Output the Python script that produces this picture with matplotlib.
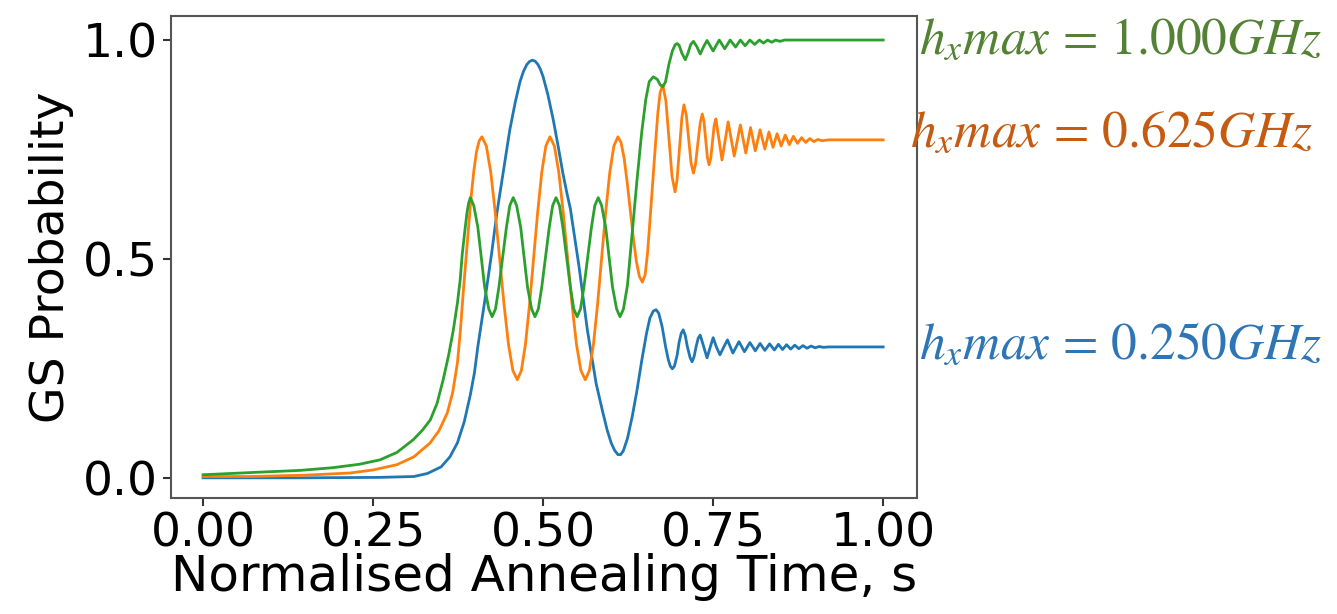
import numpy as np
import matplotlib.pyplot as plt

plt.rcParams['mathtext.fontset'] = 'stix'

# GS probability vs normalised annealing time
blue_x = [0.000, 0.150, 0.260, 0.310, 0.330, 0.350, 0.363, 0.374, 0.384, 0.393, 0.399, 0.404, 0.415, 0.424,
          0.432, 0.442, 0.451, 0.459, 0.466, 0.471, 0.476, 0.480, 0.484, 0.488, 0.492, 0.496, 0.500, 0.507,
          0.515, 0.522, 0.529, 0.535, 0.540, 0.553, 0.565, 0.578, 0.588, 0.594, 0.600, 0.605, 0.610, 0.614,
          0.618, 0.624, 0.631, 0.638, 0.645, 0.652, 0.657, 0.662, 0.666, 0.670, 0.675, 0.680, 0.684, 0.687,
          0.690, 0.693, 0.697, 0.700, 0.703, 0.706, 0.709, 0.712, 0.716, 0.719, 0.722, 0.725, 0.728, 0.731,
          0.736, 0.741, 0.746, 0.750, 0.755, 0.760, 0.766, 0.771, 0.779, 0.788, 0.796, 0.804, 0.812, 0.819,
          0.826, 0.833, 0.840, 0.846, 0.852, 0.858, 0.864, 0.870, 0.876, 0.882, 0.888, 0.894, 0.900, 0.906,
          0.912, 0.920, 1.000]
blue_y = [0.000, 0.000, 0.001, 0.003, 0.010, 0.025, 0.048, 0.080, 0.128, 0.190, 0.240, 0.300, 0.413, 0.510,
          0.605, 0.705, 0.795, 0.858, 0.905, 0.928, 0.944, 0.951, 0.954, 0.952, 0.945, 0.933, 0.916, 0.875,
          0.817, 0.758, 0.696, 0.650, 0.615, 0.480, 0.338, 0.215, 0.148, 0.110, 0.080, 0.063, 0.053, 0.053,
          0.062, 0.090, 0.140, 0.200, 0.268, 0.330, 0.365, 0.381, 0.384, 0.376, 0.345, 0.300, 0.270, 0.255,
          0.249, 0.255, 0.280, 0.310, 0.330, 0.338, 0.325, 0.300, 0.275, 0.265, 0.277, 0.300, 0.319, 0.326,
          0.300, 0.274, 0.300, 0.320, 0.298, 0.281, 0.300, 0.315, 0.285, 0.311, 0.288, 0.309, 0.290, 0.307,
          0.291, 0.306, 0.292, 0.305, 0.293, 0.304, 0.294, 0.303, 0.295, 0.302, 0.296, 0.301, 0.297, 0.300,
          0.298, 0.299, 0.299]

orange_x = [0.000, 0.070, 0.150, 0.216, 0.250, 0.285, 0.310, 0.334, 0.347, 0.359, 0.367, 0.374, 0.378, 0.382,
            0.386, 0.390, 0.394, 0.398, 0.402, 0.406, 0.410,
            0.4165, 0.423, 0.4295, 0.436, 0.4425, 0.449, 0.4555, 0.462,
            0.468, 0.474, 0.480, 0.486, 0.492, 0.498, 0.504, 0.510,
            0.5165, 0.523, 0.5295, 0.536, 0.5425, 0.549, 0.5555, 0.562,
            0.568, 0.574, 0.580, 0.586, 0.592, 0.598, 0.604, 0.610,
            0.6145, 0.619, 0.6235, 0.628, 0.6325, 0.637, 0.6415, 0.646,
            0.650, 0.6535, 0.657, 0.661, 0.665, 0.6685, 0.672, 0.676,
            0.6805, 0.685, 0.6895, 0.694, 0.697, 0.7005, 0.704, 0.707,
            0.7105, 0.714, 0.7175, 0.721, 0.724, 0.7275, 0.731, 0.734,
            0.7365, 0.739, 0.7415, 0.744, 0.7465, 0.749, 0.7515, 0.754,
            0.763, 0.772, 0.781, 0.790, 0.798, 0.805, 0.812, 0.819, 0.826, 0.832,
            0.838, 0.844, 0.850, 0.856, 0.862, 0.868, 0.874, 0.880, 0.886, 0.892, 0.898, 0.904, 0.910, 0.920,
            1.000]
orange_y = [0.003, 0.003, 0.006, 0.011, 0.018, 0.030, 0.048, 0.080, 0.108, 0.148, 0.195, 0.263, 0.330, 0.413,
            0.490, 0.566, 0.640, 0.700, 0.745, 0.770, 0.779,
            0.758, 0.698, 0.607, 0.502, 0.396, 0.305, 0.245, 0.224,
            0.245, 0.305, 0.396, 0.502, 0.607, 0.698, 0.758, 0.779,
            0.758, 0.698, 0.607, 0.502, 0.396, 0.305, 0.245, 0.224,
            0.245, 0.305, 0.396, 0.502, 0.607, 0.698, 0.758, 0.779,
            0.766, 0.731, 0.676, 0.613, 0.550, 0.495, 0.460, 0.447,
            0.464, 0.513, 0.586, 0.672, 0.758, 0.831, 0.880, 0.897,
            0.861, 0.775, 0.689, 0.653, 0.682, 0.753, 0.823, 0.852,
            0.829, 0.774, 0.719, 0.696, 0.716, 0.764, 0.811, 0.831,
            0.814, 0.773, 0.732, 0.715, 0.730, 0.768, 0.805, 0.820,
            0.726, 0.813, 0.735, 0.806, 0.742, 0.800, 0.747, 0.795, 0.751, 0.790,
            0.755, 0.786, 0.758, 0.783, 0.761, 0.780, 0.764, 0.777, 0.766, 0.775, 0.768, 0.773, 0.770, 0.772,
            0.772]

green_x = [0.000, 0.070, 0.143, 0.190, 0.230, 0.260, 0.285, 0.309, 0.322, 0.334, 0.344, 0.353, 0.361, 0.368,
           0.374, 0.378, 0.381, 0.385, 0.388, 0.3905, 0.393,
           0.398, 0.404, 0.409, 0.414, 0.420, 0.425,
           0.430, 0.435, 0.4405, 0.446, 0.451, 0.456,
           0.461, 0.467, 0.472, 0.477, 0.483, 0.488,
           0.493, 0.498, 0.5035, 0.509, 0.514, 0.519,
           0.524, 0.529, 0.5345, 0.540, 0.545, 0.550,
           0.555, 0.560, 0.5655, 0.571, 0.576, 0.581,
           0.586, 0.592, 0.597, 0.602, 0.608, 0.613,
           0.618, 0.624, 0.631, 0.638, 0.645, 0.651, 0.656, 0.662, 0.668, 0.672, 0.676, 0.680, 0.685, 0.690,
           0.694, 0.697, 0.700, 0.704, 0.709, 0.713, 0.717, 0.721, 0.726, 0.731, 0.736, 0.741, 0.7455, 0.750,
           0.7545, 0.759, 0.767, 0.775, 0.783, 0.790, 0.797, 0.804, 0.811, 0.818, 0.824, 0.830,
           0.836, 0.842, 0.848, 0.855, 1.000]
green_y = [0.007, 0.012, 0.017, 0.023, 0.031, 0.041, 0.058, 0.087, 0.108, 0.132, 0.170, 0.224, 0.280, 0.338,
           0.400, 0.452, 0.510, 0.566, 0.605, 0.628, 0.640,
           0.622, 0.572, 0.504, 0.436, 0.386, 0.368,
           0.386, 0.436, 0.504, 0.572, 0.622, 0.640,
           0.622, 0.572, 0.504, 0.436, 0.386, 0.368,
           0.386, 0.436, 0.504, 0.572, 0.622, 0.640,
           0.622, 0.572, 0.504, 0.436, 0.386, 0.368,
           0.386, 0.436, 0.504, 0.572, 0.622, 0.640,
           0.622, 0.572, 0.504, 0.436, 0.386, 0.368,
           0.385, 0.440, 0.560, 0.680, 0.790, 0.865, 0.905, 0.916, 0.910, 0.898, 0.893, 0.905, 0.945, 0.975,
           0.989, 0.992, 0.988, 0.970, 0.955, 0.970, 0.990, 0.997, 0.985, 0.968, 0.985, 0.999, 0.987, 0.975,
           0.988, 1.000, 0.980, 1.000, 0.984, 1.000, 0.987, 1.000, 0.990, 1.000, 0.993, 1.000,
           0.995, 1.000, 0.997, 1.000, 1.000]

labels = [r'$h_x max\,=\,1.000GHz$', r'$h_x max\,=\,0.625GHz$', r'$h_x max\,=\,0.250GHz$']
label_colors = ['#548235', '#C55A11', '#2E75B6']

fig = plt.figure(figsize=(13.37, 6.14), dpi=100)
ax = fig.add_axes([0.128, 0.189, 0.558, 0.785])

ax.plot(blue_x, blue_y, color='#1f77b4', lw=2)
ax.plot(orange_x, orange_y, color='#ff7f0e', lw=2)
ax.plot(green_x, green_y, color='#2ca02c', lw=2)

ax.set_xlim(-0.047, 1.05)
ax.set_ylim(-0.046, 1.055)
ax.set_xticks([0, 0.25, 0.5, 0.75, 1.0])
ax.set_xticklabels(['0.00', '0.25', '0.50', '0.75', '1.00'])
ax.set_yticks([0, 0.5, 1.0])
ax.set_yticklabels(['0.0', '0.5', '1.0'])
ax.tick_params(labelsize=34, length=6, width=1.5, color='#333333')
for s in ax.spines.values():
    s.set_color('#555555')
    s.set_linewidth(1.5)
ax.set_xlabel('Normalised Annealing Time, s', fontsize=36, labelpad=-2)
ax.set_ylabel('GS Probability', fontsize=34, labelpad=6)

fig.text(0.687, 0.935, labels[0], color=label_colors[0], fontsize=37, va='center')
fig.text(0.681, 0.783, labels[1], color=label_colors[1], fontsize=37, va='center')
fig.text(0.687, 0.438, labels[2], color=label_colors[2], fontsize=37, va='center')

fig.savefig('out.png', dpi=100)
